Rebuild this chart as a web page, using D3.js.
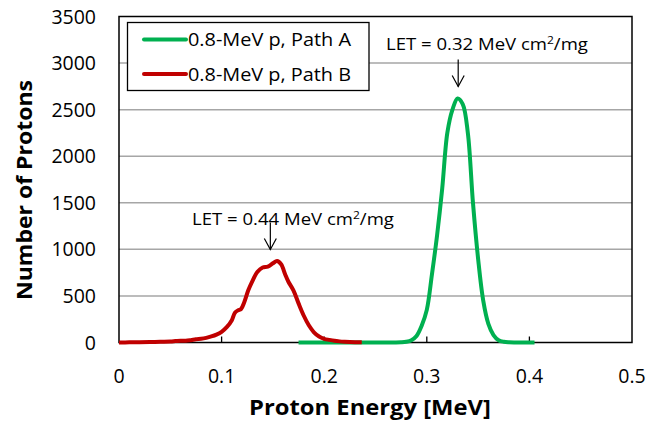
<!DOCTYPE html>
<html><head><meta charset="utf-8">
<script src="https://cdn.jsdelivr.net/npm/d3@7"></script>
<style>body{margin:0;background:#fff}svg{display:block;font-family:"Open Sans",sans-serif}</style>
</head><body><svg id="c" width="647" height="426"></svg>
<script>
const seriesNames = ["0.8-MeV p, Path A", "0.8-MeV p, Path B"];
const greenEnergy = [0.175,0.18,0.19,0.2,0.21,0.22,0.23,0.24,0.25,0.26,0.27,0.275,0.28,0.285,0.29,0.295,0.30,0.305,0.31,0.315,0.32,0.325,0.33,0.335,0.34,0.345,0.35,0.355,0.36,0.365,0.37,0.375,0.38,0.385,0.39,0.40,0.405];
const greenCount  = [0,0,0,0,0,0,0,0,0,0,0,2,8,25,70,180,350,730,1150,1650,2250,2500,2620,2560,2250,1500,900,450,200,80,25,8,2,0,0,0,0];
const redEnergy = [0,0.01,0.02,0.03,0.04,0.05,0.055,0.06,0.065,0.07,0.075,0.08,0.085,0.09,0.095,0.1,0.105,0.11,0.113,0.116,0.119,0.122,0.126,0.13,0.135,0.14,0.145,0.15,0.154,0.158,0.162,0.165,0.17,0.175,0.18,0.185,0.19,0.195,0.2,0.205,0.21,0.215,0.22,0.225,0.23,0.2366];
const redCount  = [0,2,3,5,8,10,15,20,18,25,35,40,50,65,85,115,165,240,320,345,360,430,560,660,760,805,815,850,875,840,730,655,560,420,290,185,110,65,40,28,18,12,8,5,3,2];
const xTicks = [0,0.1,0.2,0.3,0.4,0.5];
const yTicks = [0,500,1000,1500,2000,2500,3000,3500];
const annotations = [{text:"LET = 0.32 MeV cm", sup:"2", tail:"/mg", e:0.3306, v:2620},
                     {text:"LET = 0.44 MeV cm", sup:"2", tail:"/mg", e:0.1475, v:870}];
const colors = ["#00B050", "#C00000"];

const svg = d3.select("#c");
const L=119, R=632, T=16.5, B=342.5;
const x = d3.scaleLinear().domain([0,0.5]).range([L,R]);
const y = d3.scaleLinear().domain([0,3500]).range([B,T]);

function fitWidth(sel, target, cx){
  const w = sel.node().getBBox().width;
  const k = target / w;
  sel.attr("transform", `translate(${cx},0) scale(${k},1) translate(${-cx},0)`);
}

// gridlines
svg.append("g").selectAll("line").data(yTicks.filter(d=>d>0 && d<3500)).join("line")
  .attr("x1",L).attr("x2",R).attr("y1",d=>y(d)).attr("y2",d=>y(d))
  .attr("stroke","#a6a6a6").attr("stroke-width",1.5);

// x axis ticks inward
svg.append("g").selectAll("line").data(xTicks.slice(1,5)).join("line")
  .attr("x1",d=>x(d)).attr("x2",d=>x(d)).attr("y1",B).attr("y2",B-6)
  .attr("stroke","#000").attr("stroke-width",1.3);

// frame
svg.append("rect").attr("x",L).attr("y",T).attr("width",R-L).attr("height",B-T)
  .attr("fill","none").attr("stroke","#000").attr("stroke-width",1.5);

// tick labels
svg.append("g").selectAll("text").data(yTicks).join("text")
  .attr("x",96).attr("y",d=>y(d)).attr("dy","0.36em").attr("text-anchor","end")
  .attr("font-size",19.5).attr("fill","#000").text(d=>d);
svg.append("g").selectAll("text").data(xTicks).join("text")
  .attr("x",d=>x(d)).attr("y",376).attr("dy","0.36em").attr("text-anchor","middle")
  .attr("font-size",19.5).attr("fill","#000").text(d=>d);

// axis titles
const xt = svg.append("text").attr("x",370).attr("y",415).attr("text-anchor","middle")
  .attr("font-size",20.5).attr("font-weight","bold").text("Proton Energy [MeV]");
fitWidth(xt, 242, 370);
svg.append("text").attr("transform","translate(32,190) rotate(-90)").attr("text-anchor","middle")
  .attr("font-size",20.5).attr("font-weight","bold").attr("textLength",220).attr("lengthAdjust","spacingAndGlyphs")
  .text("Number of Protons");

// lines
const line = d3.line().x(d=>x(d[0])).y(d=>y(d[1])).curve(d3.curveCatmullRom.alpha(0.5));
const redData = d3.zip(redEnergy, redCount);
const greenData = d3.zip(greenEnergy, greenCount);
svg.append("path").datum(greenData).attr("d",line).attr("fill","none").attr("stroke",colors[0]).attr("stroke-width",4).attr("stroke-linejoin","round");
svg.append("path").datum(redData).attr("d",line).attr("fill","none").attr("stroke",colors[1]).attr("stroke-width",4).attr("stroke-linejoin","round");

// legend
const lg = svg.append("g");
lg.append("rect").attr("x",127.5).attr("y",22.5).attr("width",241.5).attr("height",68)
  .attr("fill","#fff").attr("stroke","#000").attr("stroke-width",1.3);
seriesNames.forEach((n,i)=>{
  const yy = 39.5 + i*34.5;
  lg.append("line").attr("x1",144).attr("x2",186).attr("y1",yy).attr("y2",yy).attr("stroke",colors[i]).attr("stroke-width",4).attr("stroke-linecap","round");
  lg.append("text").attr("x",188).attr("y",yy).attr("dy","0.36em").attr("font-size",18.5)
    .attr("textLength",163).attr("lengthAdjust","spacingAndGlyphs").text(n);
});

// annotations
const annoPos = [{cx:487, base:50.5}, {cx:293, base:225}];
annotations.forEach((a,i)=>{
  const ax = x(a.e), ay = y(a.v) - 12;
  const g = svg.append("g");
  const t = g.append("text").attr("x",annoPos[i].cx).attr("y",annoPos[i].base).attr("text-anchor","middle").attr("font-size",17);
  t.append("tspan").text(a.text);
  t.append("tspan").attr("font-size",11).attr("dy",-6).text(a.sup);
  t.append("tspan").attr("dy",6).text(a.tail);
  fitWidth(t, 202, annoPos[i].cx);
  g.append("line").attr("x1",ax).attr("x2",ax).attr("y1",ay-27).attr("y2",ay).attr("stroke","#000").attr("stroke-width",1.2);
  g.append("path").attr("d",`M${ax-6},${ay-11}L${ax},${ay}L${ax+6},${ay-11}`).attr("fill","none").attr("stroke","#000").attr("stroke-width",1.2);
});
</script></body></html>
